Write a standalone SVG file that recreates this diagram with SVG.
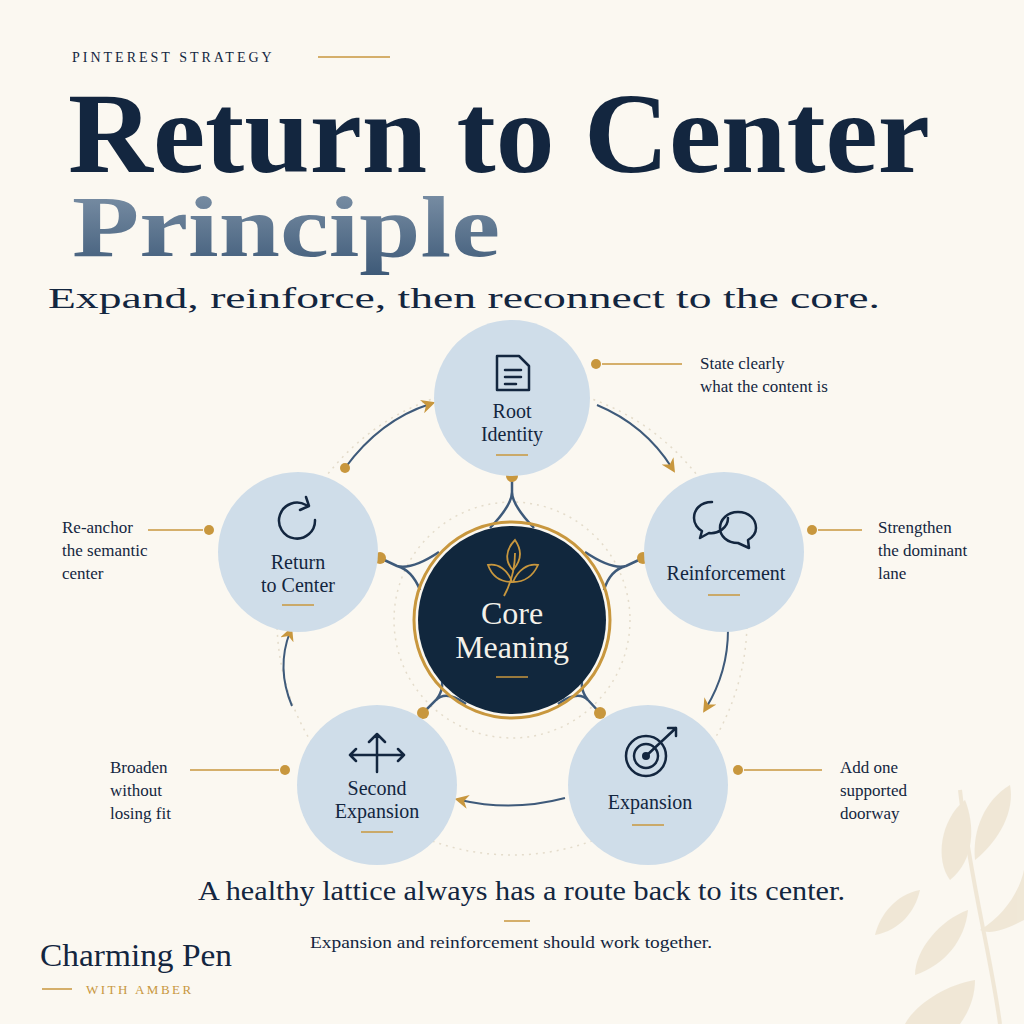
<svg xmlns="http://www.w3.org/2000/svg" width="1024" height="1024" viewBox="0 0 1024 1024">
<defs>
<linearGradient id="pg" x1="0" y1="0" x2="0" y2="1"><stop offset="0" stop-color="#8296ab"/><stop offset="1" stop-color="#3e5a78"/></linearGradient>
<marker id="ah" viewBox="0 0 10 10" refX="6" refY="5" markerWidth="7" markerHeight="7" orient="auto"><path d="M0,0 L10,5 L0,10 L3,5z" fill="#c8973e"/></marker>
<style>
.node{fill:#cfdde9}
.lbl{font-family:"Liberation Serif",serif;font-size:20px;fill:#13263f;text-anchor:middle}
.ann{font-family:"Liberation Serif",serif;font-size:17px;fill:#13263f}
.gl{stroke:#c8973e;stroke-width:1.5}
.gd{fill:#c8973e}
.arc{fill:none;stroke:#3e5a7a;stroke-width:2;marker-end:url(#ah)}
.lat{fill:none;stroke:#3e5a7a;stroke-width:2.5}
.ic{fill:none;stroke:#13263f;stroke-width:2.5;stroke-linecap:round;stroke-linejoin:round}
</style>
</defs>
<rect width="1024" height="1024" fill="#fbf8f1"/>
<g opacity="0.5" fill="#e6d8bd">
<path d="M1000,1024 C990,950 970,880 960,790" stroke="#e6d8bd" stroke-width="4" fill="none"/>
<path d="M965,800 C940,820 935,860 950,880 C975,860 975,825 965,800z"/>
<path d="M975,860 C1000,840 1015,810 1010,785 C985,800 972,830 975,860z"/>
<path d="M968,910 C940,920 915,950 915,975 C945,965 965,940 968,910z"/>
<path d="M980,930 C1005,915 1020,890 1024,870 L1024,920 C1005,930 990,935 980,930z"/>
<path d="M975,980 C945,985 915,1005 905,1024 L960,1024 C970,1010 975,995 975,980z"/>
<path d="M920,890 C895,895 880,915 875,935 C900,930 915,912 920,890z"/>
</g>
<text x="72" y="62" font-family="Liberation Serif,serif" font-size="14" letter-spacing="3" fill="#13263f">PINTEREST STRATEGY</text>
<line x1="318" y1="57" x2="390" y2="57" class="gl"/>
<text x="68" y="172" font-family="Liberation Serif,serif" font-weight="bold" font-size="114" fill="#13263f" textLength="862" lengthAdjust="spacingAndGlyphs">Return to Center</text>
<text x="72" y="256" font-family="Liberation Serif,serif" font-weight="bold" font-size="86" fill="url(#pg)" textLength="428" lengthAdjust="spacingAndGlyphs">Principle</text>
<text x="48" y="308" font-family="Liberation Serif,serif" font-size="30" fill="#13263f" textLength="832" lengthAdjust="spacingAndGlyphs">Expand, reinforce, then reconnect to the core.</text>

<circle cx="512" cy="620" r="235" fill="none" stroke="#e4dccb" stroke-width="1.5" stroke-dasharray="2 5"/>
<circle cx="512" cy="620" r="118" fill="none" stroke="#e4dccb" stroke-width="1.5" stroke-dasharray="2 5"/>

<g id="connectors">
<path class="lat" d="M512,476 L512,492 Q512,505 490,528 M512,492 Q512,505 534,528"/>
<path class="lat" d="M643,558 L626,566 Q610,570 604,590 M626,566 Q612,570 585,552"/>
<path class="lat" d="M380,558 L397,566 Q412,570 420,590 M397,566 Q412,570 439,552"/>
<path class="lat" d="M423,713 L436,700 Q446,688 440,672 M436,700 Q446,690 466,704"/>
<path class="lat" d="M600,713 L588,700 Q578,688 584,672 M588,700 Q578,690 558,704"/>
<path class="arc" d="M597,405 Q645,425 672,468"/>
<path class="arc" d="M728,630 Q728,672 706,708"/>
<path class="arc" d="M565,798 Q512,812 460,800"/>
<path class="arc" d="M292,706 Q276,668 290,632"/>
<path class="arc" d="M345,468 Q380,420 430,404"/>
<circle class="gd" cx="345" cy="468" r="5"/>
<circle class="gd" cx="512" cy="476" r="6"/>
<circle class="gd" cx="643" cy="558" r="6"/>
<circle class="gd" cx="380" cy="558" r="6"/>
<circle class="gd" cx="423" cy="713" r="6"/>
<circle class="gd" cx="600" cy="713" r="6"/>
</g>

<g id="core">
<circle cx="512" cy="620" r="98" fill="none" stroke="#c8973e" stroke-width="3"/>
<circle cx="512" cy="620" r="94" fill="#11273d"/>
<g fill="none" stroke="#c8973e" stroke-width="1.8">
<path d="M504,596 C510,585 515,570 515,553"/>
<path d="M515,540 C505,550 505,562 513,570 C522,560 522,550 515,540z"/>
<path d="M488,565 C498,563 508,570 512,582 C500,582 492,576 488,565z"/>
<path d="M538,565 C528,563 518,570 513,582 C525,582 533,576 538,565z"/>
</g>
<text x="512" y="624" class="lbl" style="fill:#f4f1ea;font-size:32px">Core</text>
<text x="512" y="658" class="lbl" style="fill:#f4f1ea;font-size:32px">Meaning</text>
<line x1="496" y1="677" x2="528" y2="677" class="gl"/>
</g>

<g id="root">
<circle class="node" cx="512" cy="398" r="78"/>
<path class="ic" d="M497,356 H519 L529,366 V390 H497 Z M505,370 H521 M505,377 H521 M505,384 H516"/>
<text x="512" y="418" class="lbl">Root</text>
<text x="512" y="441" class="lbl">Identity</text>
<line x1="496" y1="455" x2="528" y2="455" class="gl"/>
<circle class="gd" cx="596" cy="364" r="5"/>
<line x1="602" y1="364" x2="682" y2="364" class="gl"/>
<text x="700" y="369" class="ann">State clearly</text>
<text x="700" y="392" class="ann">what the content is</text>
</g>

<g id="reinforcement">
<circle class="node" cx="724" cy="552" r="80"/>
<path class="ic" d="M712,502 C700,502 694,510 694,518 C694,524 698,529 702,531 L700,538 L709,533 C718,534 728,528 728,518"/>
<path class="ic" d="M738,512 C727,512 720,520 720,528 C720,536 727,543 738,543 L749,548 L748,540 C753,537 756,533 756,528 C756,519 749,512 738,512z"/>
<text x="726" y="580" class="lbl">Reinforcement</text>
<line x1="708" y1="595" x2="740" y2="595" class="gl"/>
<circle class="gd" cx="812" cy="530" r="5"/>
<line x1="818" y1="530" x2="862" y2="530" class="gl"/>
<text x="878" y="533" class="ann">Strengthen</text>
<text x="878" y="556" class="ann">the dominant</text>
<text x="878" y="579" class="ann">lane</text>
</g>

<g id="expansion">
<circle class="node" cx="648" cy="785" r="80"/>
<circle class="ic" cx="646" cy="756" r="20"/>
<circle class="ic" cx="646" cy="756" r="12"/>
<circle cx="646" cy="756" r="4" fill="#13263f"/>
<path class="ic" d="M646,756 L676,728 M668,728 L676,728 L676,736"/>
<text x="650" y="809" class="lbl">Expansion</text>
<line x1="632" y1="825" x2="664" y2="825" class="gl"/>
<circle class="gd" cx="738" cy="770" r="5"/>
<line x1="744" y1="770" x2="822" y2="770" class="gl"/>
<text x="840" y="773" class="ann">Add one</text>
<text x="840" y="796" class="ann">supported</text>
<text x="840" y="819" class="ann">doorway</text>
</g>

<g id="second">
<circle class="node" cx="377" cy="785" r="80"/>
<path class="ic" d="M377,772 V734 M369,742 L377,734 L385,742 M377,755 L350,755 M356,749 L350,755 L356,761 M377,755 L404,755 M398,749 L404,755 L398,761"/>
<text x="377" y="795" class="lbl">Second</text>
<text x="377" y="818" class="lbl">Expansion</text>
<line x1="361" y1="832" x2="393" y2="832" class="gl"/>
<circle class="gd" cx="285" cy="770" r="5"/>
<line x1="190" y1="770" x2="279" y2="770" class="gl"/>
<text x="110" y="773" class="ann">Broaden</text>
<text x="110" y="796" class="ann">without</text>
<text x="110" y="819" class="ann">losing fit</text>
</g>

<g id="return">
<circle class="node" cx="298" cy="552" r="80"/>
<path class="ic" d="M315,520 A18,18 0 1 1 306,505 M306,497 L309,506 L300,510"/>
<text x="298" y="569" class="lbl">Return</text>
<text x="298" y="592" class="lbl">to Center</text>
<line x1="282" y1="605" x2="314" y2="605" class="gl"/>
<circle class="gd" cx="209" cy="530" r="5"/>
<line x1="148" y1="530" x2="203" y2="530" class="gl"/>
<text x="62" y="533" class="ann">Re-anchor</text>
<text x="62" y="556" class="ann">the semantic</text>
<text x="62" y="579" class="ann">center</text>
</g>

<text x="198" y="900" font-family="Liberation Serif,serif" font-size="28" fill="#13263f" textLength="647" lengthAdjust="spacingAndGlyphs">A healthy lattice always has a route back to its center.</text>
<line x1="504" y1="921" x2="530" y2="921" class="gl" stroke-width="2"/>
<text x="310" y="948" font-family="Liberation Serif,serif" font-size="17" fill="#13263f" textLength="402" lengthAdjust="spacingAndGlyphs">Expansion and reinforcement should work together.</text>
<text x="40" y="966" font-family="Liberation Serif,serif" font-size="32" fill="#13263f" textLength="192" lengthAdjust="spacingAndGlyphs">Charming Pen</text>
<line x1="42" y1="989" x2="72" y2="989" class="gl"/>
<text x="86" y="994" font-family="Liberation Serif,serif" font-size="13" fill="#c8973e" letter-spacing="2.5">WITH AMBER</text>
</svg>
